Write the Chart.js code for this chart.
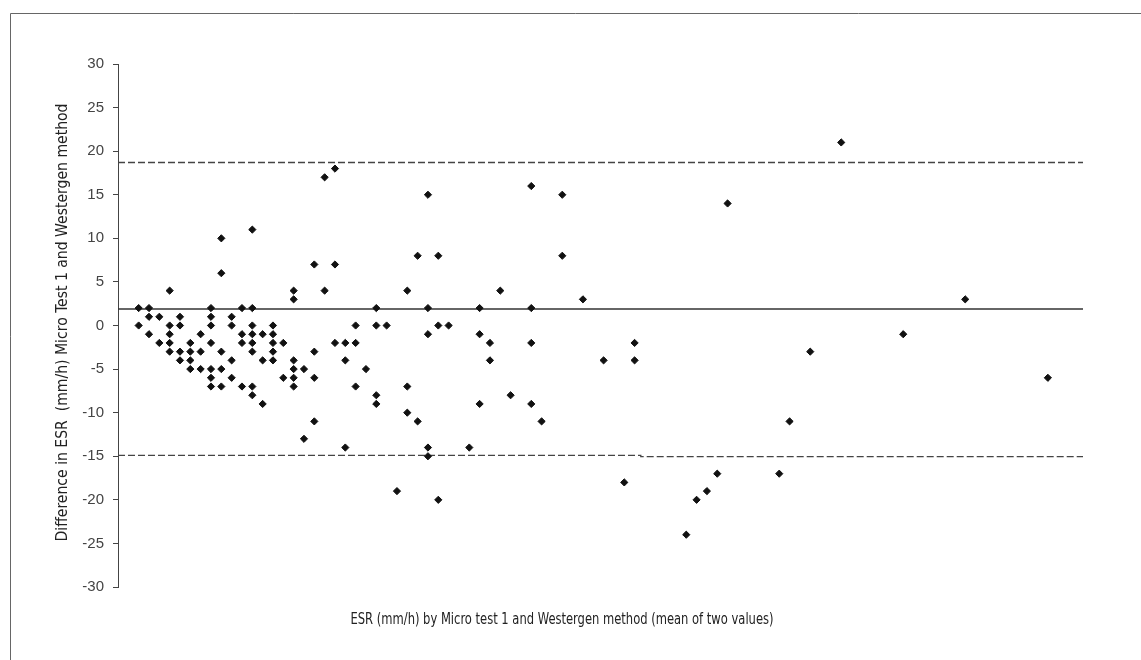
<!DOCTYPE html>
<html>
<head>
<meta charset="utf-8">
<script src="https://cdn.jsdelivr.net/npm/chart.js@4.4.1/dist/chart.umd.min.js"></script>
<style>
  html, body { margin: 0; padding: 0; background: #fff; }
  canvas { display: block; }
</style>
</head>
<body>
<canvas id="blandAltman" width="1141" height="660"></canvas>
<script>
// Mean ESR of the two methods (x) and their difference (y), one entry per sample
const esrMean = [
  2, 2,
  3, 3, 3,
  4, 4,
  5, 5, 5, 5, 5,
  6, 6, 6, 6,
  7, 7, 7, 7,
  8, 8, 8,
  9, 9, 9, 9, 9, 9, 9,
  10, 10, 10, 10, 10,
  11, 11, 11, 11,
  12, 12, 12, 12,
  13, 13, 13, 13, 13, 13, 13, 13,
  14, 14, 14,
  15, 15, 15, 15, 15,
  16, 16,
  17, 17, 17, 17, 17, 17,
  18, 18,
  19, 19, 19, 19,
  20, 20,
  21, 21, 21,
  22, 22, 22,
  23, 23, 23,
  24,
  25, 25, 25, 25,
  26,
  27,
  28, 28, 28,
  29, 29,
  30, 30, 30, 30, 30,
  31, 31, 31,
  32,
  34,
  35, 35, 35,
  36, 36,
  37,
  38,
  40, 40, 40, 40,
  41,
  43, 43,
  45,
  47,
  49,
  50, 50,
  55, 56, 57, 58, 59,
  64, 65, 67, 70, 76, 82, 90
];
const esrDiff = [
  2, 0,
  2, 1, -1,
  1, -2,
  4, 0, -1, -2, -3,
  1, 0, -3, -4,
  -2, -3, -4, -5,
  -1, -3, -5,
  2, 1, 0, -2, -5, -6, -7,
  10, 6, -3, -5, -7,
  1, 0, -4, -6,
  2, -1, -2, -7,
  11, 2, 0, -1, -2, -3, -7, -8,
  -1, -4, -9,
  0, -1, -2, -3, -4,
  -2, -6,
  4, 3, -4, -5, -6, -7,
  -5, -13,
  7, -3, -6, -11,
  17, 4,
  18, 7, -2,
  -2, -4, -14,
  0, -2, -7,
  -5,
  2, 0, -8, -9,
  0,
  -19,
  4, -7, -10,
  8, -11,
  15, 2, -1, -14, -15,
  8, 0, -20,
  0,
  -14,
  2, -1, -9,
  -2, -4,
  4,
  -8,
  16, 2, -2, -9,
  -11,
  15, 8,
  3,
  -4,
  -18,
  -2, -4,
  -24, -20, -19, -17, 14,
  -17, -11, -3, 21, -1, 3, -6
];

// Mean difference and limits of agreement
const meanDiff = 1.9;
const upperLimit = 18.7;
const lowerLimit = [-14.9, -15.05];   // the lower line steps slightly at limitBreak
const limitBreak = 50.6;
const xMax = 93.4;

const yTicks = [-30, -25, -20, -15, -10, -5, 0, 5, 10, 15, 20, 25, 30];

const xTitle = 'ESR (mm/h) by Micro test 1 and Westergen method (mean of two values)';
const yTitle = 'Difference in ESR  (mm/h) Micro Test 1 and Westergen method';

const points = esrMean.map((x, i) => ({ x: x, y: esrDiff[i] }));

const titleFont = '16px "Liberation Sans Narrow", "DejaVu Sans Condensed", "Arial Narrow", sans-serif';

// draws a text squeezed/stretched to a given width
function drawFitted(ctx, text, cx, cy, width, rot) {
  ctx.save();
  ctx.translate(cx, cy);
  ctx.rotate(rot);
  ctx.font = titleFont;
  const w = ctx.measureText(text).width;
  ctx.scale(width / w, 1);
  ctx.fillStyle = '#222';
  ctx.textAlign = 'center';
  ctx.textBaseline = 'middle';
  ctx.fillText(text, 0, 0);
  ctx.restore();
}

const framePlugin = {
  id: 'frame',
  beforeDraw(chart) {
    const ctx = chart.ctx;
    ctx.save();
    ctx.strokeStyle = '#666';
    ctx.lineWidth = 1;
    ctx.beginPath();
    ctx.moveTo(10.5, chart.height);
    ctx.lineTo(10.5, 13.5);
    ctx.lineTo(chart.width, 13.5);
    ctx.stroke();
    ctx.restore();
  },
  afterDraw(chart) {
    drawFitted(chart.ctx, xTitle, 562, 620, 423, 0);
    drawFitted(chart.ctx, yTitle, 63, 322.5, 438, -Math.PI / 2);
  }
};

const ctx = document.getElementById('blandAltman').getContext('2d');
const baChart = new Chart(ctx, {
  type: 'scatter',
  data: {
    datasets: [
      {
        label: 'Samples',
        data: points,
        pointStyle: 'rectRot',
        pointRadius: 3.6,
        pointBorderWidth: 1,
        backgroundColor: '#111',
        borderColor: '#111',
        order: 0
      },
      {
        type: 'line',
        label: 'Mean',
        data: [{ x: 0, y: meanDiff }, { x: xMax, y: meanDiff }],
        borderColor: '#333',
        borderWidth: 1.5,
        pointRadius: 0,
        order: 1
      },
      {
        type: 'line',
        label: 'Upper limit',
        data: [{ x: 0, y: upperLimit }, { x: xMax, y: upperLimit }],
        borderColor: '#444',
        borderWidth: 1.3,
        borderDash: [7, 3],
        pointRadius: 0,
        order: 1
      },
      {
        type: 'line',
        label: 'Lower limit',
        data: [
          { x: 0, y: lowerLimit[0] },
          { x: limitBreak, y: lowerLimit[0] },
          { x: limitBreak, y: lowerLimit[1] },
          { x: xMax, y: lowerLimit[1] }
        ],
        borderColor: '#444',
        borderWidth: 1.3,
        borderDash: [7, 3],
        pointRadius: 0,
        order: 1
      }
    ]
  },
  options: {
    responsive: false,
    animation: false,
    layout: { padding: { left: 0, right: 58, top: 64, bottom: 73 } },
    plugins: {
      legend: { display: false },
      tooltip: { enabled: false }
    },
    scales: {
      x: {
        type: 'linear',
        display: false,
        min: 0,
        max: xMax
      },
      y: {
        type: 'linear',
        min: -30,
        max: 30,
        afterFit(scale) { scale.width = 118; },
        afterBuildTicks(scale) { scale.ticks = yTicks.map(v => ({ value: v })); },
        ticks: {
          padding: 9,
          color: '#444',
          font: { family: '"Liberation Sans", Arial, sans-serif', size: 15 }
        },
        grid: {
          drawOnChartArea: false,
          drawTicks: true,
          tickLength: 5,
          color: '#444'
        },
        border: { display: true, color: '#444', width: 1 }
      }
    }
  },
  plugins: [framePlugin]
});
</script>
</body>
</html>
